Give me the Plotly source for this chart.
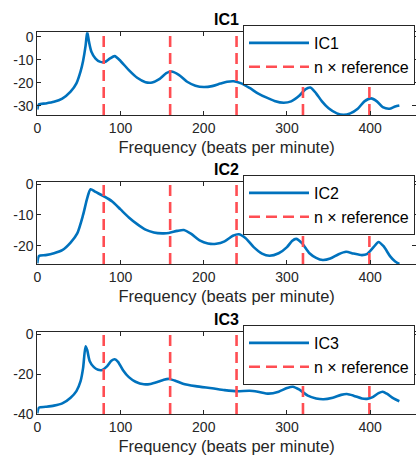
import plotly.graph_objects as go

# ---------------- data ----------------
ic1_x = [0, 2, 10, 20, 30, 40, 47, 52, 55, 58, 60, 62, 65, 70, 75, 81, 87, 93, 100, 110,
         120, 130, 138, 146, 155, 161, 170, 180, 190, 200, 210, 220, 228, 236, 245, 255,
         265, 275, 285, 296, 305, 315, 322, 328, 335, 342, 350, 360, 368, 376, 385, 393,
         401, 408, 415, 423, 430, 435]
ic1_y = [-31.5, -29.3, -28.9, -28.2, -26.8, -23.8, -20.2, -15, -10.5, -4, 2.0, -2, -6.5, -9.5,
         -10.8, -11, -9.5, -8.4, -10.5, -14.5, -17.8, -19.7, -19.8, -18.5, -15.8, -15.1, -16.5,
         -19.5, -21.2, -21.8, -21.4, -20.3, -19.5, -19.3, -20.2, -22.2, -24.5, -26.3, -27.8,
         -28.6, -28, -25.5, -22.8, -22, -24.5, -28, -31, -33.2, -33.8, -33.2, -31.2, -28,
         -26.7, -28, -30.5, -31.2, -30.2, -29.8]

ic2_x = [0, 2, 10, 20, 30, 40, 48, 55, 60, 64, 70, 80, 90, 100, 110, 120, 130, 140, 150, 158,
         168, 176, 185, 195, 205, 215, 225, 235, 242, 250, 260, 270, 279, 290, 300, 306, 311,
         318, 327, 335, 343, 352, 362, 371, 380, 390, 396, 404, 410, 416, 424, 430, 435]
ic2_y = [-25.8, -23.4, -23.1, -22.5, -21.5, -19, -16, -10, -4.5, -1.6, -2.5, -3.9, -5.6, -8.2,
         -10.8, -13, -14.8, -15.7, -16, -15.9, -15.2, -14.9, -16.2, -18.3, -19.3, -19.4, -18.6,
         -16.8, -16.3, -17.5, -20.5, -22.6, -23.3, -22.5, -20.5, -18.5, -17.8, -19.2, -22.5,
         -24, -24.7, -24.2, -22.8, -22, -22.6, -23.1, -22.8, -20.5, -18.8, -20.2, -23.5, -25.2,
         -26]

ic3_x = [0, 2, 10, 20, 30, 40, 47, 52, 55, 58, 60, 63, 68, 73, 78, 84, 89, 93, 97, 103, 110,
         118, 128, 136, 145, 152, 158, 165, 175, 190, 210, 225, 240, 255, 265, 278, 290, 300,
         307, 315, 325, 335, 344, 355, 365, 372, 380, 390, 396, 403, 410, 415, 420, 428, 435]
ic3_y = [-39.7, -36.8, -36.4, -35.8, -34.7, -31.8, -28.5, -23.5, -17, -6, -8, -13.5, -16.5,
         -17.8, -17.9, -16, -13.3, -12.5, -13.8, -18, -21.5, -23.8, -25.1, -24.9, -23.8, -22.8,
         -22.4, -23.2, -24.8, -26, -27.1, -28, -28.6, -28.3, -28.8, -29.8, -28.8, -27, -26.3,
         -27.8, -30.8, -32.2, -32.6, -31.8, -30.4, -30, -30.8, -32.2, -32.4, -31.5, -29.5,
         -28.8, -29.8, -32.2, -33.6]

reference_bpm = 79.8
harmonics = [1, 2, 3, 4, 5]

names = ["IC1", "IC2", "IC3"]
xs = [ic1_x, ic2_x, ic3_x]
ys = [ic1_y, ic2_y, ic3_y]
y_ranges = [[-33.9, 1.9], [-26, 0.65], [-40, 1]]
y_ticks = [[0, -10, -20, -30], [0, -10, -20], [0, -20, -40]]
y_ticktext = [["0", "-10", "-20", "-30"], ["0", "-10", "-20"], ["0", "-20", "-40"]]
x_ticks = [0, 100, 200, 300, 400]
x_ticktext = ["0", "100", "200", "300", "400"]
x_range = [0, 455]
ref_label = "n \u00d7 reference"
x_title = "Frequency (beats per minute)"

# ---------------- layout geometry ----------------
W, H = 416, 459
FONT = "Liberation Sans, Arial, Helvetica, sans-serif"
TXT = "#262626"
BLUE = "#0072BD"
RED = "#FF4D52"
panel_px = [(32.3, 115), (182.3, 264), (332.3, 414)]  # top, bottom in px
legend_top_px = [25, 175, 325]
x_left = 37.3 / W

fig = go.Figure()
layout = dict(
    width=W, height=H,
    margin=dict(l=0, r=0, t=0, b=0, autoexpand=False),
    paper_bgcolor="white", plot_bgcolor="white",
    font=dict(family=FONT, color=TXT, size=14),
    annotations=[],
    showlegend=True,
)

for i in range(3):
    k = "" if i == 0 else str(i + 1)
    leg = "legend" if i == 0 else "legend" + str(i + 1)
    top, bot = panel_px[i]
    dom = [1 - bot / H, 1 - top / H]
    yr = y_ranges[i]

    # harmonic reference lines
    hx, hy = [], []
    for n in harmonics:
        hx += [n * reference_bpm, n * reference_bpm, None]
        hy += [yr[0], yr[1], None]

    fig.add_trace(go.Scatter(
        x=xs[i], y=ys[i], mode="lines", name=names[i],
        line=dict(color=BLUE, width=2.6, shape="spline", smoothing=0.7),
        xaxis="x" + k, yaxis="y" + k, legend=leg, cliponaxis=True))
    fig.add_trace(go.Scatter(
        x=hx, y=hy, mode="lines", name=ref_label,
        line=dict(color=RED, width=2.6, dash="11px,6px"),
        xaxis="x" + k, yaxis="y" + k, legend=leg))

    axis_common = dict(
        showline=True, linecolor=TXT, linewidth=1, mirror="allticks",
        ticks="inside", ticklen=4, tickwidth=1, tickcolor=TXT,
        showgrid=False, zeroline=False, automargin=False,
        tickfont=dict(size=14, color=TXT, family=FONT),
    )
    layout["xaxis" + k] = dict(
        axis_common, domain=[x_left, 1], range=x_range, anchor="y" + k,
        tickvals=x_ticks, ticktext=x_ticktext,
        title=dict(text=x_title, font=dict(size=16.5, color=TXT, family=FONT), standoff=6),
    )
    layout["yaxis" + k] = dict(
        axis_common, domain=dom, range=yr, anchor="x" + k,
        tickvals=y_ticks[i], ticktext=y_ticktext[i],
    )
    layout[leg] = dict(
        x=243 / W, y=1 - legend_top_px[i] / H, xanchor="left", yanchor="top",
        bgcolor="white", bordercolor=TXT, borderwidth=1,
        font=dict(size=16, color="black", family=FONT),
        itemwidth=60, tracegroupgap=0, entrywidth=180, entrywidthmode="pixels",
    )
    layout["annotations"].append(dict(
        text="<b>" + names[i] + "</b>", xref="paper", yref="paper",
        x=(x_left + 1) / 2, y=dom[1], xanchor="center", yanchor="bottom",
        yshift=2, showarrow=False, font=dict(size=16, color="black", family=FONT)))

fig.update_layout(**layout)
fig.write_html("out.html", config={"displayModeBar": False},
               post_script="document.body.style.margin='0';document.body.style.overflow='hidden';")
